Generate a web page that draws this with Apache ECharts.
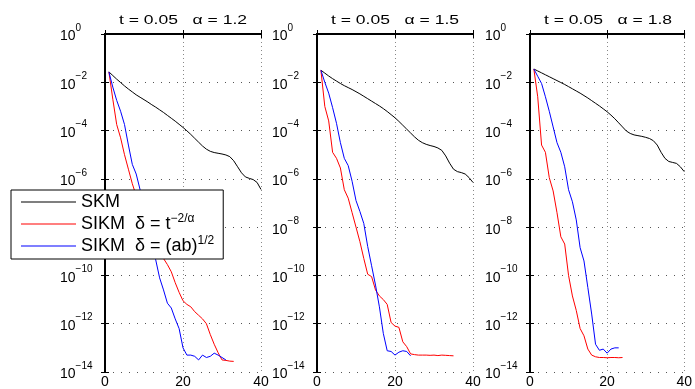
<!DOCTYPE html>
<html>
<head>
<meta charset="utf-8">
<script src="https://cdn.jsdelivr.net/npm/echarts@6/dist/echarts.min.js"></script>
<style>
  html, body {margin: 0; padding: 0; background: #fff;}
  #chart {width: 695px; height: 389px;}
</style>
</head>
<body>
<div id="chart"></div>
<script>
// panel titles
const alphas = ['1.2', '1.5', '1.8'];
const seriesNames = ['SKM', 'SIKM t', 'SIKM ab'];
const xTicks = [0, 20, 40];
const yTicks = [-14, -12, -10, -8, -6, -4, -2, 0]; // log10 of error

// log10(error) per iteration, starting at iteration 1
const skm12 = [-1.57, -1.72, -1.87, -2.01, -2.15, -2.28, -2.40, -2.52, -2.62, -2.72,
  -2.82, -2.93, -3.03, -3.14, -3.25, -3.37, -3.49, -3.61, -3.74, -3.87,
  -4.01, -4.16, -4.32, -4.48, -4.64, -4.77, -4.86, -4.91, -4.94, -4.97,
  -5.01, -5.08, -5.25, -5.50, -5.75, -5.92, -5.98, -6.03, -6.15, -6.44];
const red12 = [-1.57, -2.7, -3.75, -4.3, -5.0, -5.6, -6.2, -6.7, -7.2, -7.6,
  -8.0, -8.4, -8.75, -9.05, -9.3, -9.55, -9.85, -10.3, -10.7, -11.05,
  -11.2, -11.3, -11.5, -11.65, -11.8, -12.0, -12.45, -12.85, -13.2, -13.5,
  -13.52, -13.55, -13.56];
const blue12 = [-1.57, -2.2, -2.75, -3.2, -3.75, -4.6, -5.4, -5.8, -6.45, -7.2,
  -7.9, -8.6, -9.35, -10.1, -10.6, -11.15, -11.35, -11.8, -12.2, -13.0,
  -13.3, -13.3, -13.35, -13.5, -13.3, -13.4, -13.35, -13.22, -13.3, -13.4, -13.5];

const skm15 = [-1.5, -1.62, -1.74, -1.85, -1.95, -2.05, -2.14, -2.22, -2.3, -2.39,
  -2.48, -2.58, -2.68, -2.78, -2.88, -2.98, -3.09, -3.21, -3.34, -3.47,
  -3.62, -3.78, -3.94, -4.1, -4.26, -4.4, -4.5, -4.57, -4.62, -4.66,
  -4.72, -4.82, -5.05, -5.35, -5.6, -5.7, -5.74, -5.8, -5.95, -6.15];
const red15 = [-1.5, -3.0, -3.6, -4.9, -5.15, -5.55, -6.45, -6.8, -7.4, -8.0,
  -8.6, -9.3, -9.95, -10.05, -10.6, -10.85, -11.0, -11.2, -11.95, -12.1,
  -12.15, -12.75, -12.95, -13.25, -13.28, -13.3, -13.3, -13.3, -13.31, -13.3,
  -13.32, -13.3, -13.31, -13.32, -13.33];
const blue15 = [-1.5, -2.0, -2.45, -3.05, -3.7, -4.5, -5.15, -5.45, -6.1, -6.9,
  -7.35, -7.85, -8.8, -9.6, -10.4, -11.3, -12.4, -13.12, -13.15, -13.3,
  -13.18, -13.12, -13.15, -13.33];

const skm18 = [-1.45, -1.53, -1.61, -1.69, -1.77, -1.85, -1.93, -2.01, -2.09, -2.18,
  -2.27, -2.36, -2.45, -2.55, -2.65, -2.76, -2.87, -2.98, -3.1, -3.22,
  -3.36, -3.51, -3.68, -3.85, -4.02, -4.12, -4.18, -4.21, -4.24, -4.28,
  -4.33, -4.42, -4.6, -4.9, -5.15, -5.28, -5.32, -5.36, -5.5, -5.7];
const red18 = [-1.45, -2.6, -4.6, -4.9, -5.95, -6.5, -7.4, -8.4, -8.7, -10.0,
  -10.85, -11.45, -12.2, -12.5, -13.05, -13.3, -13.37, -13.4, -13.4, -13.41,
  -13.4, -13.4, -13.41, -13.4];
const blue18 = [-1.45, -1.75, -2.05, -2.6, -3.2, -3.85, -4.5, -4.9, -5.5, -6.45,
  -6.95, -7.7, -8.85, -9.4, -10.5, -11.6, -12.85, -13.1, -13.05, -13.22,
  -13.05, -13.0, -13.0];

const panels = [
  [skm12, red12, blue12],
  [skm15, red15, blue15],
  [skm18, red18, blue18]
];
const colors = ['#000000', '#ff0000', '#0000ff'];
const gridLefts = [105, 317, 530];
const gridWidth = 156;

const font = 'Liberation Sans, Arial, Helvetica, sans-serif';
const chart = echarts.init(document.getElementById('chart'));

const grids = [], xAxes = [], yAxes = [], series = [], titles = [];

function expLabel(v) {
  const e = v === 0 ? '0' : '\u2212' + Math.abs(v);
  return '{b|10}{s|' + e + '}';
}

const boxLine = {lineStyle: {color: '#000', width: 2}};
const tick = {inside: true, length: 4, lineStyle: {color: '#000'}};

panels.forEach((p, i) => {
  grids.push({left: gridLefts[i], top: 34, width: gridWidth, height: 339,
    show: true, borderWidth: 0, backgroundColor: '#fff'});
  // the original figure text is stretched wide, so titles are scaled in x
  titles.push({
    type: 'text',
    x: gridLefts[i] + gridWidth / 2, y: 21, scaleX: 1.46,
    style: {
      text: 't = 0.05   \u03b1 = ' + alphas[i],
      fontSize: 12, fontFamily: font, fill: '#000',
      align: 'center', verticalAlign: 'middle'
    }
  });
  // bottom + top x axes
  xAxes.push({
    gridIndex: i, type: 'value', min: xTicks[0], max: xTicks[2], interval: 20,
    position: 'bottom',
    axisLine: boxLine, axisTick: tick,
    axisLabel: {margin: 3, fontSize: 14, color: '#000', fontFamily: font},
    splitLine: {show: true, lineStyle: {color: '#888', type: [1, 3], width: 1}}
  });
  xAxes.push({
    gridIndex: i, type: 'value', min: xTicks[0], max: xTicks[2], interval: 20,
    position: 'top',
    axisLine: boxLine, axisTick: tick,
    axisLabel: {show: false}, splitLine: {show: false}
  });
  yAxes.push({
    gridIndex: i, type: 'value', min: yTicks[0], max: yTicks[yTicks.length - 1], interval: 2,
    position: 'left',
    axisLine: boxLine, axisTick: tick,
    axisLabel: {
      margin: 45, align: 'left', color: '#000', fontFamily: font,
      formatter: expLabel,
      rich: {
        b: {fontSize: 14, lineHeight: 22, padding: [5, 0, 0, 0], fontFamily: font, color: '#000'},
        s: {fontSize: 10, verticalAlign: 'top', fontFamily: font, color: '#000'}
      }
    },
    splitLine: {show: true, lineStyle: {color: '#555', type: [1, 7], width: 1}}
  });
  yAxes.push({
    gridIndex: i, type: 'value', min: yTicks[0], max: yTicks[yTicks.length - 1], interval: 2,
    position: 'right',
    axisLine: boxLine, axisTick: tick,
    axisLabel: {show: false}, splitLine: {show: false}
  });
  p.forEach((vals, k) => {
    series.push({
      name: seriesNames[k], type: 'line',
      xAxisIndex: 2 * i, yAxisIndex: 2 * i,
      data: vals.map((v, j) => [j + 1, v]),
      symbol: 'none', silent: true, animation: false,
      lineStyle: {color: colors[k], width: 1},
      itemStyle: {color: colors[k]}
    });
  });
});

const legendText = {
  'SKM': '{n|SKM}',
  'SIKM t': '{n|SIKM  \u03b4 = t}{s|\u22122/\u03b1}',
  'SIKM ab': '{n|SIKM  \u03b4 = (ab)}{s|1/2}'
};

chart.setOption({
  animation: false,
  textStyle: {fontFamily: font},
  graphic: titles,
  grid: grids,
  xAxis: xAxes,
  yAxis: yAxes,
  legend: {
    data: seriesNames,
    icon: 'rect',
    orient: 'vertical', left: 11, top: 190, z: 10,
    backgroundColor: '#fff', borderColor: '#000', borderWidth: 1,
    borderRadius: 0,
    padding: [3, 9, 4, 10], itemGap: 2,
    itemWidth: 55, itemHeight: 1,
    selectedMode: false,
    formatter: name => legendText[name],
    textStyle: {
      color: '#000', fontSize: 18, fontFamily: font,
      rich: {
        n: {fontSize: 18, lineHeight: 22, fontFamily: font, color: '#000'},
        s: {fontSize: 12, verticalAlign: 'top', fontFamily: font, color: '#000'}
      }
    }
  },
  series: series
});
</script>
</body>
</html>
